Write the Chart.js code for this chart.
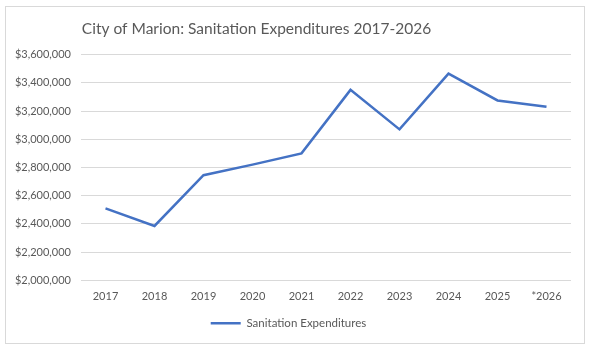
<!DOCTYPE html>
<html>
<head>
<meta charset="utf-8">
<script src="https://cdn.jsdelivr.net/npm/chart.js@4.4.0/dist/chart.umd.min.js"></script>
<style>
  html, body { margin: 0; padding: 0; background: #ffffff; }
  #frame { position: absolute; left: 5px; top: 6px; width: 578px; height: 336px; border: 1px solid #d9d9d9; background: #fff; }
  #wrap { position: absolute; left: 0; top: 0; width: 578px; height: 336px; }
</style>
</head>
<body>
<div id="frame"><div id="wrap"><canvas id="c"></canvas></div></div>
<script>
const categories = ['2017','2018','2019','2020','2021','2022','2023','2024','2025','*2026'];
const expenditures = [2510000, 2385000, 2745000, 2820000, 2900000, 3350000, 3070000, 3465000, 3275000, 3230000];
const seriesName = 'Sanitation Expenditures';
const titleText = 'City of Marion: Sanitation Expenditures 2017-2026';
const yMin = 2000000, yMax = 3600000, yStep = 200000;

const FONT = 'Lato, "Open Sans", sans-serif';
const GRAY = '#595959';

// The reference title sits left of centre; narrow the title box so it centres there.
const titleShift = {
  id: 'titleShift',
  afterLayout(chart) {
    if (chart.titleBlock) { chart.titleBlock.right -= 64; }
  }
};

new Chart(document.getElementById('c'), {
  type: 'line',
  data: {
    labels: categories,
    datasets: [{
      label: seriesName,
      data: expenditures,
      borderColor: '#4472C4',
      backgroundColor: '#4472C4',
      borderWidth: 2.5,
      pointRadius: 0,
      tension: 0,
      fill: false
    }]
  },
  options: {
    responsive: true,
    maintainAspectRatio: false,
    animation: false,
    layout: { padding: { top: 8, right: 13, left: 0, bottom: 4 } },
    plugins: {
      title: {
        display: true,
        text: titleText,
        color: GRAY,
        font: { family: FONT, size: 15.5, weight: 'normal' },
        padding: { top: 5, bottom: 16 }
      },
      legend: {
        position: 'bottom',
        labels: {
          usePointStyle: true,
          pointStyle: 'line',
          pointStyleWidth: 30,
          color: GRAY,
          font: { family: FONT, size: 11.5 },
          padding: 12
        }
      },
      tooltip: { enabled: false }
    },
    scales: {
      x: {
        offset: true,
        grid: { display: false },
        border: { display: false },
        ticks: { color: GRAY, font: { family: FONT, size: 11 }, padding: 2, maxRotation: 0 }
      },
      y: {
        min: yMin,
        max: yMax,
        afterFit: (s) => { s.width = 75; },
        grid: { color: '#d9d9d9', lineWidth: 1, drawTicks: false },
        border: { display: false },
        ticks: {
          stepSize: yStep,
          color: GRAY,
          font: { family: FONT, size: 11 },
          padding: 10,
          callback: (v) => '$' + v.toLocaleString('en-US')
        }
      }
    }
  },
  plugins: [titleShift]
});
</script>
</body>
</html>
